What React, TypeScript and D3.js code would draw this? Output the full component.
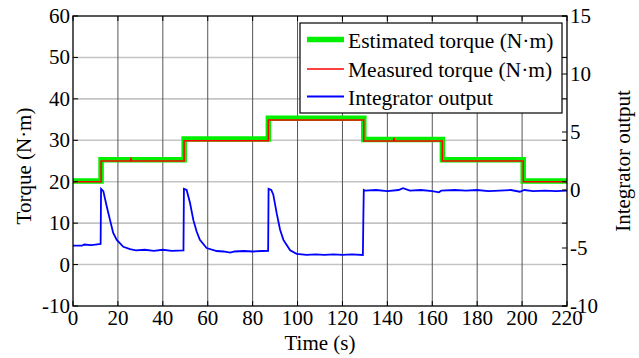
import { useEffect, useRef } from "react";
import * as d3 from "d3";

// time ticks (s)
const timeTicks = [0, 20, 40, 60, 80, 100, 120, 140, 160, 180, 200, 220];
const torqueTicks = [-10, 0, 10, 20, 30, 40, 50, 60];
const integratorTicks = [-10, -5, 0, 5, 10, 15];

// step change points of the load torque
const stepTimes = [0, 12.5, 49.5, 87, 129.5, 164.5, 200.5, 220];
const estimatedLevels = [20.2, 25.3, 30.3, 35.3, 30.2, 25.3, 20.2];
const measuredLevels = [20, 25, 29.9, 34.9, 29.8, 25, 20];

// small spikes seen on the measured torque
const measuredSpikes: [number, number][] = [
  [25.8, 25.8],
  [143, 30.6],
];

// integrator output [time, value]
const integratorPoints: [number, number][] = [
  [0, -4.8], [4, -4.8], [5, -4.7], [8, -4.75], [10, -4.7], [12.3, -4.65],
  [12.5, 0.1], [13.5, -0.1], [15, -1.4], [16.5, -2.6], [17.9, -3.7], [19.5, -4.3],
  [22.4, -4.9], [25.4, -5.1], [28, -5.2], [32, -5.15], [36, -5.25], [40, -5.15],
  [44, -5.25], [49.2, -5.2],
  [49.4, 0.1], [50.6, 0.0], [52.1, -1.1], [53.6, -2.6], [55.1, -3.6], [56.5, -4.3],
  [59.5, -5.0], [64, -5.26], [67, -5.3], [70, -5.4], [72, -5.3], [76, -5.26],
  [80, -5.3], [84, -5.26], [86.9, -5.25],
  [87.1, 0.1], [88.3, 0.0], [89.2, -0.4], [90.7, -2.0], [92.2, -3.4], [93.7, -4.3],
  [96.7, -5.2], [99.6, -5.5], [104, -5.6], [108, -5.55], [112, -5.6], [116, -5.55],
  [120, -5.6], [124, -5.55], [129.1, -5.6],
  [129.3, -2.5], [129.5, 0.0], [130, -0.05], [135, 0.0], [140, -0.1], [145, 0.0],
  [147, 0.15], [150, -0.05], [155, 0.0], [160, -0.1], [163, -0.2], [164, -0.05],
  [170, 0.0], [175, -0.05], [180, 0.0], [185, -0.1], [190, -0.05], [195, 0.0],
  [199, -0.15], [201, 0.0], [205, -0.1], [210, -0.05], [215, -0.1], [220, -0.05],
];

const legendItems = [
  { label: "Estimated torque (N\u00b7m)", color: "#00f000", width: 5.5 },
  { label: "Measured torque (N\u00b7m)", color: "#ff0000", width: 1.5 },
  { label: "Integrator output", color: "#0000ff", width: 1.8 },
];

const W = 639;
const H = 358;
const FONT = "'Liberation Serif', 'Times New Roman', serif";

function stepSeries(levels: number[], spikes: [number, number][] = []) {
  const pts: [number, number][] = [];
  levels.forEach((v, i) => {
    pts.push([stepTimes[i], v]);
    spikes
      .filter(s => s[0] > stepTimes[i] && s[0] < stepTimes[i + 1])
      .forEach(s => {
        pts.push([s[0] - 0.3, v]);
        pts.push([s[0], s[1]]);
        pts.push([s[0] + 0.3, v]);
      });
    pts.push([stepTimes[i + 1], v]);
  });
  return pts;
}

export default function App() {
  const svgRef = useRef<SVGSVGElement>(null);

  useEffect(() => {
    if (!svgRef.current) return;
    const svg = d3.select(svgRef.current);
    svg.selectAll("*").remove();

    const margin = { top: 16, right: 72, bottom: 52, left: 73 };
    const x = d3.scaleLinear().domain([0, 220]).range([margin.left, W - margin.right]);
    const yL = d3.scaleLinear().domain([-10, 60]).range([H - margin.bottom, margin.top]);
    const yR = d3.scaleLinear().domain([-10, 15]).range([H - margin.bottom, margin.top]);
    const [x0, x1] = x.range();
    const [y0, y1] = yL.range();

    // grid
    svg.append("g")
      .selectAll("line")
      .data(torqueTicks.slice(1, -1))
      .join("line")
      .attr("x1", x0).attr("x2", x1)
      .attr("y1", d => yL(d)).attr("y2", d => yL(d))
      .attr("stroke", "#c4c4c4")
      .attr("stroke-width", 1.6);
    svg.append("g")
      .selectAll("line")
      .data(timeTicks.slice(1, -1))
      .join("line")
      .attr("x1", d => x(d)).attr("x2", d => x(d))
      .attr("y1", y0).attr("y2", y1)
      .attr("stroke", "#555")
      .attr("stroke-width", 1);

    const lineL = d3.line<[number, number]>().x(d => x(d[0])).y(d => yL(d[1]));
    const lineR = d3.line<[number, number]>().x(d => x(d[0])).y(d => yR(d[1]));

    svg.append("path")
      .attr("d", lineL(stepSeries(estimatedLevels)))
      .attr("fill", "none")
      .attr("stroke", legendItems[0].color)
      .attr("stroke-width", legendItems[0].width);
    svg.append("path")
      .attr("d", lineL(stepSeries(measuredLevels, measuredSpikes)))
      .attr("fill", "none")
      .attr("stroke", legendItems[1].color)
      .attr("stroke-width", legendItems[1].width);
    svg.append("path")
      .attr("d", lineR(integratorPoints))
      .attr("fill", "none")
      .attr("stroke", legendItems[2].color)
      .attr("stroke-width", legendItems[2].width);

    // frame
    svg.append("rect")
      .attr("x", x0).attr("y", y1)
      .attr("width", x1 - x0).attr("height", y0 - y1)
      .attr("fill", "none")
      .attr("stroke", "#000")
      .attr("stroke-width", 1.3);

    const tk = 5;
    const ticks = svg.append("g").attr("stroke", "#000").attr("stroke-width", 1);
    timeTicks.forEach(t => {
      ticks.append("line").attr("x1", x(t)).attr("x2", x(t)).attr("y1", y0).attr("y2", y0 - tk);
      ticks.append("line").attr("x1", x(t)).attr("x2", x(t)).attr("y1", y1).attr("y2", y1 + tk);
    });
    torqueTicks.forEach(t => {
      ticks.append("line").attr("x1", x0).attr("x2", x0 + tk).attr("y1", yL(t)).attr("y2", yL(t));
      ticks.append("line").attr("x1", x1).attr("x2", x1 - tk).attr("y1", yL(t)).attr("y2", yL(t));
    });
    integratorTicks.forEach(t => {
      ticks.append("line").attr("x1", x1).attr("x2", x1 - tk).attr("y1", yR(t)).attr("y2", yR(t));
    });

    const txt = svg.append("g").attr("font-family", FONT).attr("fill", "#000");

    txt.selectAll(".xt")
      .data(timeTicks)
      .join("text")
      .attr("x", d => x(d))
      .attr("y", y0 + 19)
      .attr("text-anchor", "middle")
      .attr("font-size", 21)
      .text(d => d);
    txt.selectAll(".yl")
      .data(torqueTicks)
      .join("text")
      .attr("x", x0 - 3)
      .attr("y", d => yL(d) + 7)
      .attr("text-anchor", "end")
      .attr("font-size", 21)
      .text(d => d);
    txt.selectAll(".yr")
      .data(integratorTicks)
      .join("text")
      .attr("x", x1 + 3)
      .attr("y", d => yR(d) + 7)
      .attr("text-anchor", "start")
      .attr("font-size", 21)
      .text(d => d);

    txt.append("text")
      .attr("x", (x0 + x1) / 2)
      .attr("y", 350)
      .attr("text-anchor", "middle")
      .attr("font-size", 21)
      .text("Time (s)");
    txt.append("text")
      .attr("transform", `translate(31,${(y0 + y1) / 2 + 5}) rotate(-90)`)
      .attr("text-anchor", "middle")
      .attr("font-size", 21)
      .text("Torque (N\u00b7m)");
    txt.append("text")
      .attr("transform", `translate(630,${(y0 + y1) / 2}) rotate(-90)`)
      .attr("text-anchor", "middle")
      .attr("font-size", 21)
      .text("Integrator output");

    // legend
    const lg = svg.append("g").attr("transform", "translate(300,23)");
    lg.append("rect")
      .attr("width", 262).attr("height", 90)
      .attr("fill", "#fff")
      .attr("stroke", "#000")
      .attr("stroke-width", 1.2);
    const rows = [16.5, 46, 73.5];
    legendItems.forEach((it, i) => {
      lg.append("line")
        .attr("x1", 7).attr("x2", 44)
        .attr("y1", rows[i]).attr("y2", rows[i])
        .attr("stroke", it.color)
        .attr("stroke-width", it.width);
      lg.append("text")
        .attr("x", 48)
        .attr("y", rows[i] + 8)
        .attr("font-family", FONT)
        .attr("font-size", 21.5)
        .text(it.label);
    });
  }, []);

  return (
    <svg
      ref={svgRef}
      width={W}
      height={H}
      style={{ position: "absolute", left: 0, top: 0, background: "#fff" }}
    />
  );
}
